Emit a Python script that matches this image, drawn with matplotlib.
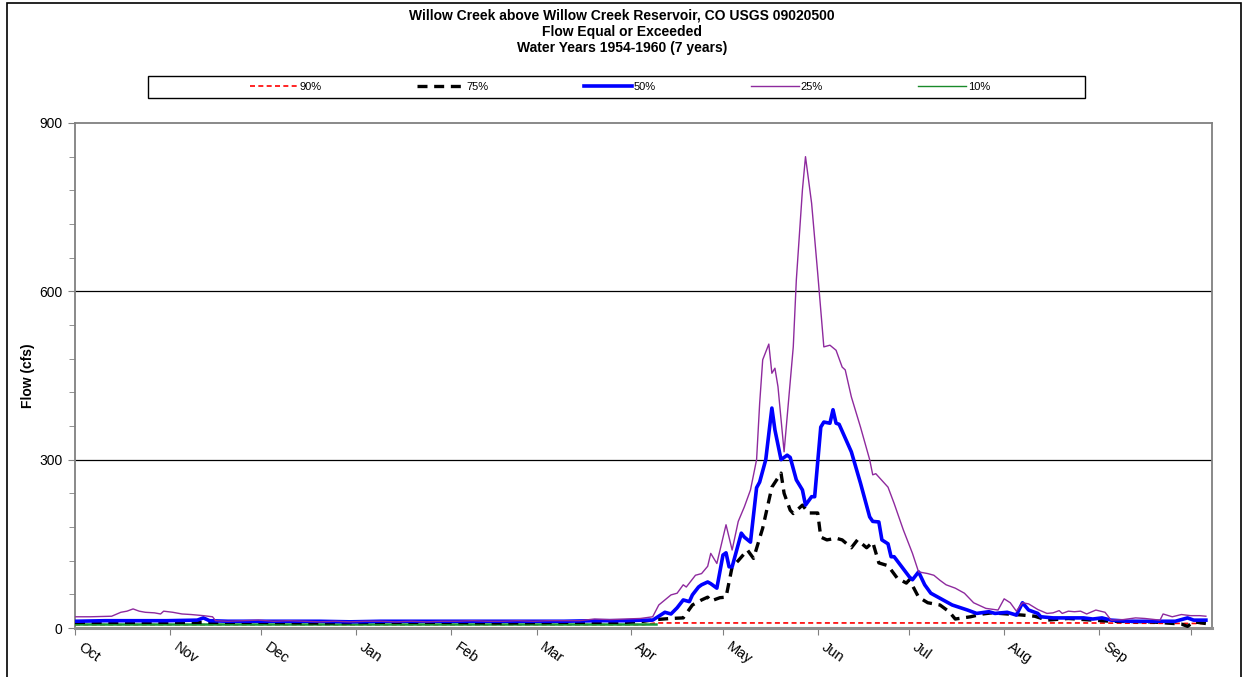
import matplotlib
matplotlib.use('Agg')
import matplotlib.pyplot as plt
import matplotlib.transforms as mtransforms
from matplotlib.patches import Rectangle

plt.rcParams['font.family'] = ['Liberation Sans', 'DejaVu Sans']

# days counted from Oct 1
month_days = [0, 31, 61, 92, 123, 151, 182, 212, 243, 273, 304, 335, 365]
month_names = ['Oct', 'Nov', 'Dec', 'Jan', 'Feb', 'Mar', 'Apr', 'May', 'Jun', 'Jul', 'Aug', 'Sep', '']

p90_day = [0, 60, 120, 186, 190, 230, 280, 330, 370]
p90_flow = [6, 6, 6, 6, 9, 9, 9, 9, 8]

p75_day = [0, 20, 40, 60, 80, 100, 120, 140, 160, 180,
           186, 190, 195, 199, 202, 205, 207, 208, 211, 213,
           215, 217, 220, 222, 225, 228, 231, 232, 234, 235,
           238, 240, 243, 244, 246, 249, 251, 254, 256, 259,
           261, 263, 266, 269, 272, 273, 276, 279, 283, 286,
           288, 293, 297, 300, 305, 310, 314, 318, 325, 330,
           339, 352, 357, 362, 364, 366, 370]
p75_flow = [10, 10, 10, 10, 9, 10, 10, 9, 10, 10,
            12, 15, 17, 18, 41, 50, 55, 48, 54, 55,
            109, 120, 139, 124, 178, 251, 276, 240, 210, 204,
            219, 205, 205, 162, 157, 160, 157, 143, 157, 143,
            153, 116, 111, 89, 80, 86, 55, 45, 41, 29,
            16, 20, 25, 27, 25, 23, 21, 14, 17, 15,
            12, 11, 9, 7, 3, 11, 8]

p50_day = [0, 10, 20, 30, 40, 42, 44, 50, 60, 70,
           80, 90, 100, 110, 120, 130, 140, 150, 160, 170,
           180, 186, 189, 193, 195, 197, 199, 201, 202, 204,
           205, 207, 208, 210, 212, 213, 214, 215, 218, 219,
           221, 223, 224, 226, 228, 229, 231, 233, 234, 236,
           238, 239, 241, 242, 244, 245, 247, 248, 249, 250,
           254, 257, 260, 261, 263, 264, 266, 267, 268, 273,
           274, 276, 278, 280, 283, 287, 292, 295, 299, 301,
           305, 308, 310, 312, 315, 316, 320, 325, 330, 333,
           336, 339, 345, 350, 355, 360, 364, 366, 370]
p50_flow = [12, 13, 13, 13, 14, 18, 13, 12, 12, 12,
            12, 11, 12, 12, 12, 12, 12, 12, 12, 13,
            13, 14, 14, 28, 25, 36, 50, 47, 59, 73,
            77, 82, 79, 71, 130, 134, 109, 109, 169, 162,
            153, 250, 260, 300, 392, 353, 300, 308, 304, 264,
            246, 219, 234, 234, 358, 367, 365, 389, 365, 363,
            314, 258, 198, 190, 189, 157, 150, 127, 127, 91,
            86, 100, 77, 62, 53, 41, 32, 26, 29, 26,
            28, 23, 45, 32, 26, 20, 18, 18, 18, 16,
            18, 14, 12, 12, 12, 12, 18, 14, 14]

p25_day = [0, 5, 12, 15, 17, 19, 21, 23, 26, 28,
           29, 32, 35, 38, 42, 45, 46, 50, 55, 60,
           65, 70, 75, 80, 85, 90, 95, 100, 105, 110,
           115, 120, 125, 130, 135, 140, 145, 150, 155, 160,
           165, 170, 175, 180, 185, 189, 191, 195, 197, 199,
           200, 203, 205, 207, 208, 210, 213, 215, 217, 219,
           221, 223, 224, 225, 227, 228, 229, 230, 232, 235,
           236, 238, 239, 241, 243, 245, 247, 249, 251, 252,
           254, 257, 260, 261, 262, 266, 268, 271, 274, 276,
           279, 281, 283, 285, 288, 291, 294, 298, 302, 304,
           306, 308, 310, 312, 315, 318, 320, 322, 323, 325,
           327, 329, 331, 334, 337, 339, 343, 347, 350, 355,
           356, 359, 362, 365, 368, 370]
p25_flow = [20, 20, 21, 28, 30, 34, 30, 28, 27, 25,
            30, 28, 25, 24, 22, 20, 13, 12, 13, 14,
            12, 13, 12, 11, 12, 11, 12, 12, 11, 12,
            11, 12, 12, 13, 12, 12, 13, 12, 13, 13,
            13, 16, 15, 16, 17, 20, 41, 59, 62, 77,
            73, 94, 97, 110, 133, 115, 184, 139, 190, 216,
            246, 300, 400, 478, 506, 454, 463, 430, 314, 501,
            620, 781, 840, 757, 632, 501, 504, 495, 465, 460,
            412, 358, 300, 273, 275, 251, 222, 175, 133, 100,
            97, 94, 85, 77, 71, 62, 45, 35, 32, 52,
            45, 30, 45, 43, 33, 26, 27, 31, 26, 30,
            29, 30, 25, 32, 28, 14, 15, 18, 17, 14,
            25, 20, 24, 22, 22, 21]

p10_day = [0, 30, 60, 90, 120, 150, 190]
p10_flow = [7, 7, 7, 7, 7, 7, 7]

fig = plt.figure(figsize=(12.44, 6.77), dpi=100)
ax = fig.add_axes([75 / 1244, 1 - 628 / 677, (1212 - 75) / 1244, (628 - 123) / 677])

ax.plot(p90_day, p90_flow, color='#ff0000', lw=1.2, ls=(0, (3, 2)), label='90%', zorder=3)
ax.plot(p10_day, p10_flow, color='#1a9a3a', lw=1.8, label='_nolegend_', zorder=4)
ax.plot(p75_day, p75_flow, color='black', lw=2.4, ls=(0, (3, 2)), label='75%', zorder=5)
ax.plot(p50_day, p50_flow, color='#0000ff', lw=2.6, label='50%', zorder=6)
ax.plot(p25_day, p25_flow, color='#8e2a9e', lw=1.0, label='25%', zorder=7)
ax.plot([], [], color='#1a8a2a', lw=1.0, label='10%')

ax.set_xlim(0, 372)
ax.set_ylim(0, 900)
ax.set_yticks([0, 300, 600, 900])
ax.set_yticks(range(0, 900, 60), minor=True)
ax.set_xticks(month_days)
ax.set_xticklabels([])
# month names drawn by hand so they can sit right of the tick, like the original
offset = mtransforms.ScaledTranslation(9 / 100, -12 / 100, fig.dpi_scale_trans)
for d, name in zip(month_days, month_names):
    ax.text(d, 0, name, transform=ax.get_xaxis_transform() + offset, rotation=-35,
            rotation_mode='anchor', ha='left', va='top', fontsize=10.5)
ax.tick_params(axis='x', direction='out', length=5, color='#808080')
ax.tick_params(axis='y', which='major', direction='out', length=5, color='#808080', labelsize=10, pad=4)
ax.tick_params(axis='y', which='minor', direction='out', length=4, color='#808080')
for y in [300, 600]:
    ax.axhline(y, color='black', lw=0.9, zorder=1)
for side in ['top', 'right', 'left']:
    ax.spines[side].set_color('#808080')
    ax.spines[side].set_linewidth(1.3)
ax.spines['bottom'].set_color('#909090')
ax.spines['bottom'].set_linewidth(2.2)

ax.set_ylabel('Flow (cfs)', fontsize=10, fontweight='bold')
ax.yaxis.set_label_coords(-(75 - 35) / 1137, 0.5)

fig.text(0.5, 1 - 16 / 677, 'Willow Creek above Willow Creek Reservoir, CO USGS 09020500',
         ha='center', va='center', fontsize=10, fontweight='bold')
fig.text(0.5, 1 - 32 / 677, 'Flow Equal or Exceeded', ha='center', va='center', fontsize=10, fontweight='bold')
fig.text(0.5, 1 - 48 / 677, 'Water Years 1954-1960 (7 years)', ha='center', va='center', fontsize=10, fontweight='bold')

handles, labels = ax.get_legend_handles_labels()
order = ['90%', '75%', '50%', '25%', '10%']
handles = [handles[labels.index(o)] for o in order]
leg = fig.legend(handles, order, loc='center', ncol=5,
                 bbox_to_anchor=(620 / 1244, 1 - 87 / 677),
                 fontsize=8, handlelength=4.3, handletextpad=0.15, columnspacing=8.6,
                 frameon=False, borderaxespad=0)
fig.patches.append(Rectangle((148 / 1244, 1 - 98 / 677), (1085 - 148) / 1244, 22 / 677,
                             transform=fig.transFigure, fill=False, edgecolor='black', lw=1.0))

fig.patches.append(Rectangle((7 / 1244, -0.05), 1234 / 1244, 1.05 - 3 / 677, transform=fig.transFigure,
                             fill=False, edgecolor='black', lw=1.2))

fig.savefig('out.png', dpi=100)
